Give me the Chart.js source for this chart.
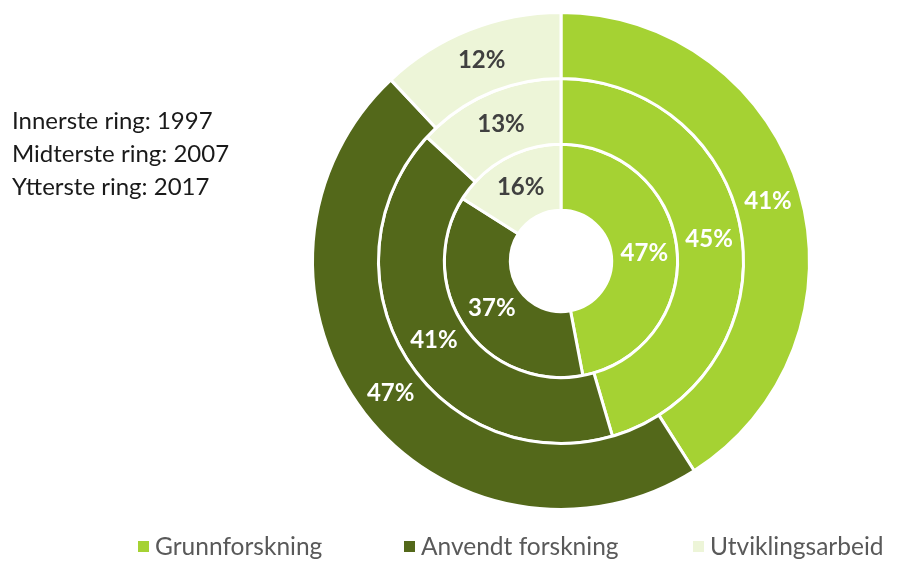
<!DOCTYPE html>
<html>
<head>
<meta charset="utf-8">
<script src="https://cdn.jsdelivr.net/npm/chart.js@4"></script>
<style>
  html, body { margin: 0; padding: 0; background: #fff; }
  #wrap { position: relative; width: 907px; height: 563px; font-family: Lato, "Open Sans", sans-serif; }
  #ringNote { position: absolute; left: 12px; top: 103px; font-size: 24px; line-height: 33px; color: #1a1a1a; }
  #legend { position: absolute; top: 531px; left: 0; width: 907px; height: 30px; font-size: 24.5px; line-height: 30px; color: #595959; }
  .item { position: absolute; top: 0; white-space: nowrap; }
  .item span { display: inline-block; width: 11px; height: 11px; margin-right: 6px; vertical-align: 3px; }
</style>
</head>
<body>
<div id="wrap">
  <canvas id="ringChart" width="907" height="563"></canvas>
  <div id="ringNote"></div>
  <div id="legend"></div>
</div>
<script>
const categories = ['Grunnforskning', 'Anvendt forskning', 'Utviklingsarbeid'];
const colors = ['#a5d233', '#53681a', '#edf5d8'];
const labelColors = ['#ffffff', '#ffffff', '#404040'];

// outermost ring first (Chart.js draws dataset 0 outside)
const years = ['2017', '2007', '1997'];
const share2017 = [41, 47, 12];
const share2007 = [45, 41, 13];
const share1997 = [47, 37, 16];
const ringNames = ['Innerste ring', 'Midterste ring', 'Ytterste ring'];

document.getElementById('ringNote').innerHTML =
    ringNames.map((n, i) => n + ': ' + years[2 - i]).join('<br>');

const legendX = [138, 404, 693];
document.getElementById('legend').innerHTML = categories.map((c, i) =>
    '<div class="item" style="left:' + legendX[i] + 'px"><span style="background:' + colors[i] + '"></span>' + c + '</div>'
).join('');

const sliceLabels = {
    id: 'sliceLabels',
    afterDatasetsDraw(chart) {
        const ctx = chart.ctx;
        ctx.save();
        ctx.font = 'bold 24px Lato, "Open Sans", sans-serif';
        ctx.textAlign = 'center';
        ctx.textBaseline = 'middle';
        chart.data.datasets.forEach((ds, di) => {
            chart.getDatasetMeta(di).data.forEach((arc, i) => {
                const p = arc.tooltipPosition();
                ctx.fillStyle = labelColors[i];
                ctx.fillText(ds.data[i] + '%', p.x, p.y);
            });
        });
        ctx.restore();
    }
};

new Chart(document.getElementById('ringChart').getContext('2d'), {
    type: 'doughnut',
    data: {
        labels: categories,
        datasets: [share2017, share2007, share1997].map((d, i) => ({
            label: years[i],
            data: d,
            backgroundColor: colors,
            borderColor: '#ffffff',
            borderWidth: 3
        }))
    },
    options: {
        responsive: false,
        animation: false,
        cutout: '20.4%',
        layout: { padding: { left: 311, right: 96, top: 11, bottom: 52 } },
        plugins: {
            legend: { display: false },
            tooltip: { enabled: false }
        }
    },
    plugins: [sliceLabels]
});
</script>
</body>
</html>
